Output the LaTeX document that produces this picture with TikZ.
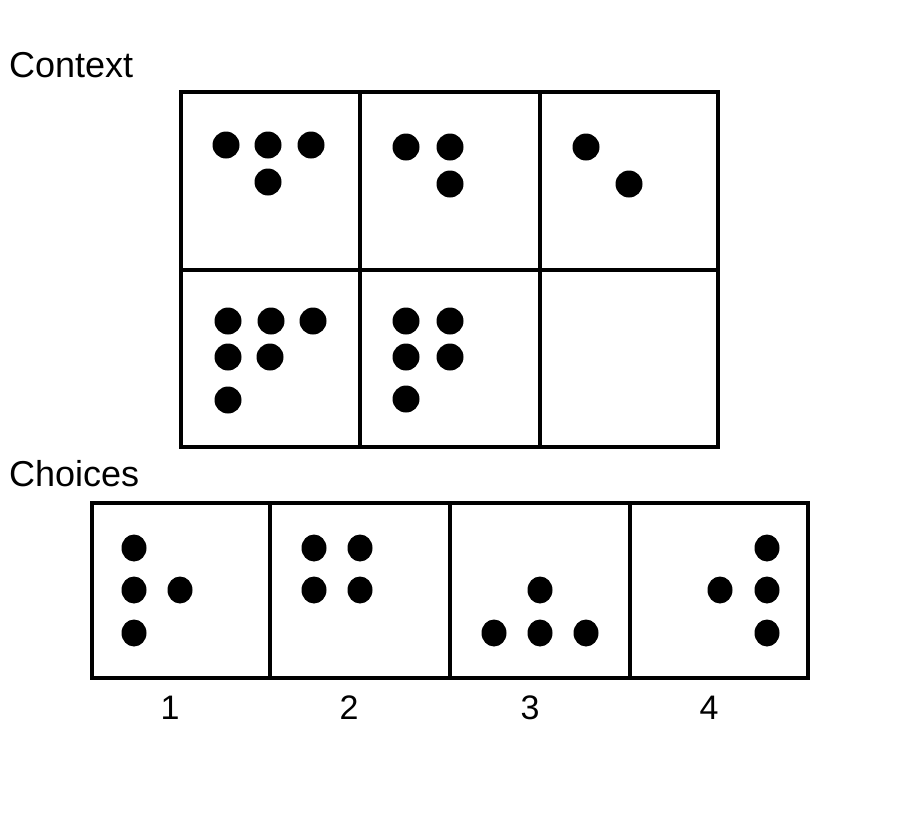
\documentclass[tikz,border=0pt]{standalone}
\usepackage{fontspec}
\setmainfont{Liberation Sans}
\begin{document}
\begin{tikzpicture}[x=1pt,y=-1pt,
  frame/.style={line width=4pt},
  dot/.style={fill=black},
  lbl/.style={font=\fontsize{36}{42}\selectfont,inner sep=0pt,anchor=base west},
  num/.style={font=\fontsize{34}{40}\selectfont,inner sep=0pt,anchor=base}]
\useasboundingbox (0,0) rectangle (900,820);
% labels
\node[lbl] (ctx) at (9,77) {Context};
\node[lbl] (cho) at (9,486) {Choices};
% context grid
\draw[frame] (181,92) rectangle (718,447);
\draw[frame] (360,92) -- (360,447);
\draw[frame] (540,92) -- (540,447);
\draw[frame] (181,270) -- (718,270);
% context dots
\foreach \p in {(226,145),(268,145),(311,145),(268,182),
                (406,147),(450,147),(450,184),
                (586,147),(629,184),
                (228,321),(271,321),(313,321),(228,357),(270,357),(228,400),
                (406,321),(450,321),(406,357),(450,357),(406,399)}
  \fill[dot] \p circle (13.5);
% choices row
\draw[frame] (92,503) rectangle (808,678);
\draw[frame] (270,503) -- (270,678);
\draw[frame] (450,503) -- (450,678);
\draw[frame] (630,503) -- (630,678);
\foreach \p in {(134,548),(134,590),(180,590),(134,633),
                (314,548),(360,548),(314,590),(360,590),
                (540,590),(494,633),(540,633),(586,633),
                (767,548),(720,590),(767,590),(767,633)}
  \fill[dot] \p ellipse (12.5 and 13.5);
\node[num] (n1) at (170,719) {1};
\node[num] (n2) at (349,719) {2};
\node[num] (n3) at (530,719) {3};
\node[num] (n4) at (709,719) {4};
\end{tikzpicture}
\end{document}
